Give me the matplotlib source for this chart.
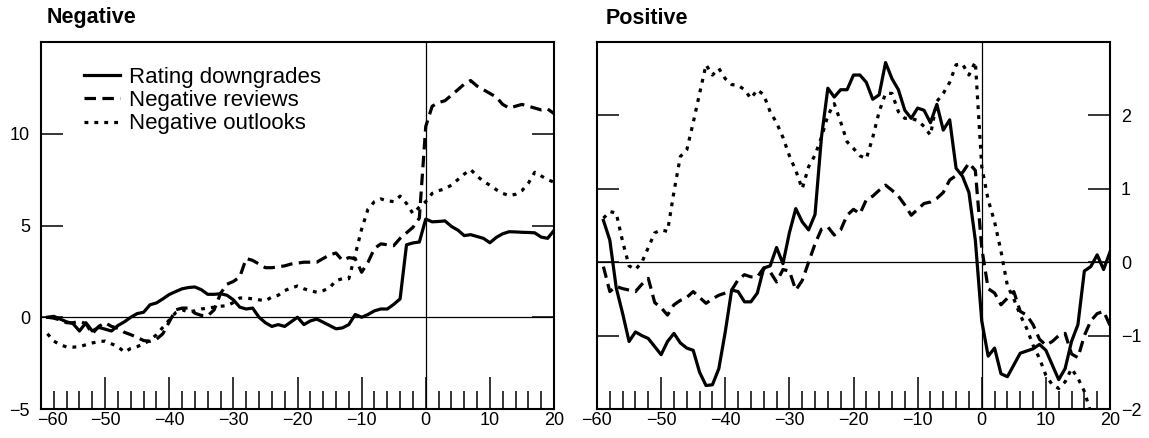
import numpy as np
import matplotlib
matplotlib.use("Agg")
import matplotlib.pyplot as plt
import matplotlib.transforms as mtrans

plt.rcParams['font.family'] = ['Liberation Sans', 'DejaVu Sans']

# days relative to the rating event
days = np.arange(-59, 21)

# --- Negative panel (left axis) ---
neg_downgrades = [
    0.0, 0.05, -0.1, -0.25, -0.35, -0.75, -0.3, -0.75, -0.55, -0.65,
    -0.75, -0.45, -0.25, 0.0, 0.2, 0.27, 0.68, 0.78, 1.0, 1.24,
    1.4, 1.55, 1.62, 1.65, 1.5, 1.25, 1.25, 1.28, 1.2, 0.95,
    0.55, 0.45, 0.5, 0.0, -0.3, -0.5, -0.4, -0.5, -0.25, 0.0,
    -0.4, -0.2, -0.1, -0.27, -0.45, -0.63, -0.58, -0.4, 0.15, 0.0,
    0.15, 0.35, 0.45, 0.45, 0.7, 1.0, 3.95, 4.05, 4.1, 5.35,
    5.2, 5.22, 5.25, 4.95, 4.75, 4.45, 4.5, 4.4, 4.3, 4.06,
    4.35, 4.55, 4.66, 4.65, 4.63, 4.62, 4.6, 4.37, 4.3, 4.73,
]
neg_reviews = [
    0.0, -0.05, -0.15, -0.3, -0.3, -0.22, -0.35, -0.9, -0.5, -0.3,
    -0.5, -0.6, -0.82, -0.95, -1.1, -1.27, -1.31, -1.2, -0.9, -0.25,
    0.4, 0.5, 0.5, 0.22, 0.1, 0.08, 0.4, 1.3, 1.8, 1.95,
    2.2, 3.2, 3.1, 2.9, 2.7, 2.7, 2.75, 2.8, 2.9, 2.95,
    3.0, 3.0, 3.0, 3.2, 3.4, 3.5, 3.1, 3.25, 3.2, 2.45,
    3.0, 3.75, 4.0, 3.95, 3.9, 4.3, 4.6, 4.9, 5.4, 10.4,
    11.5, 11.7, 11.8, 12.1, 12.4, 12.7, 12.9, 12.6, 12.4, 12.2,
    12.0, 11.6, 11.4, 11.5, 11.6, 11.5, 11.4, 11.3, 11.35, 11.1,
]
neg_outlooks = [
    -0.9, -1.3, -1.5, -1.62, -1.63, -1.6, -1.5, -1.4, -1.33, -1.3,
    -1.45, -1.6, -1.9, -1.7, -1.6, -1.45, -1.26, -0.95, -0.55, -0.15,
    0.25, 0.4, 0.3, 0.35, 0.45, 0.5, 0.55, 0.6, 0.63, 0.8,
    1.05, 1.05, 1.0, 0.95, 0.9, 1.1, 1.2, 1.45, 1.6, 1.7,
    1.55, 1.45, 1.36, 1.45, 1.6, 2.0, 2.1, 2.1, 3.4, 4.8,
    5.9, 6.3, 6.45, 6.35, 6.3, 6.6, 6.2, 5.65, 6.0, 6.3,
    6.75, 6.9, 7.0, 7.2, 7.5, 7.8, 8.05, 7.7, 7.4, 7.2,
    6.95, 6.75, 6.63, 6.7, 6.9, 7.3, 7.9, 7.7, 7.5, 7.36,
]

# --- Positive panel (right axis) ---
pos_upgrades = [
    0.57, 0.3, -0.35, -0.7, -1.08, -0.95, -1.0, -1.04, -1.15, -1.26,
    -1.08, -0.97, -1.1, -1.17, -1.2, -1.5, -1.68, -1.67, -1.45, -0.95,
    -0.38, -0.4, -0.54, -0.54, -0.42, -0.08, -0.05, 0.2, -0.02, 0.4,
    0.73, 0.55, 0.44, 0.65, 1.7, 2.37, 2.25, 2.35, 2.35, 2.55,
    2.55, 2.45, 2.22, 2.28, 2.72, 2.5, 2.35, 2.07, 1.96, 2.1,
    2.07, 1.9, 2.15, 1.8, 1.94, 1.28, 1.17, 0.95, 0.3, -0.8,
    -1.28, -1.17, -1.52, -1.56, -1.4, -1.24, -1.21, -1.18, -1.12, -1.2,
    -1.4, -1.6, -1.45, -1.08, -0.85, -0.12, -0.06, 0.1, -0.1, 0.14,
]
pos_reviews = [
    -0.06, -0.4, -0.33, -0.36, -0.38, -0.4, -0.3, -0.22, -0.55, -0.62,
    -0.72, -0.58, -0.52, -0.48, -0.4, -0.48, -0.56, -0.5, -0.45, -0.42,
    -0.38, -0.24, -0.17, -0.2, -0.2, -0.08, -0.13, -0.27, -0.1, -0.12,
    -0.38, -0.25, 0.0, 0.25, 0.45, 0.48, 0.37, 0.44, 0.64, 0.72,
    0.66, 0.85, 0.9, 0.98, 1.05, 0.98, 0.9, 0.78, 0.64, 0.72,
    0.8, 0.82, 0.87, 0.95, 1.12, 1.18, 1.22, 1.35, 1.25, 0.19,
    -0.36, -0.42, -0.58, -0.49, -0.4, -0.67, -0.72, -0.85, -1.05, -1.13,
    -1.08, -1.0, -0.97, -1.25, -1.3, -1.0, -0.8, -0.7, -0.67, -0.86,
]
pos_outlooks = [
    0.6, 0.69, 0.67, 0.28, -0.05, -0.1, 0.0, 0.2, 0.4, 0.44,
    0.42, 0.96, 1.44, 1.53, 1.9, 2.3, 2.69, 2.55, 2.64, 2.5,
    2.42, 2.41, 2.35, 2.23, 2.35, 2.28, 2.05, 1.9, 1.7, 1.45,
    1.25, 1.0, 1.3, 1.46, 1.7, 2.0, 2.16, 1.91, 1.64, 1.55,
    1.45, 1.41, 1.7, 2.05, 2.3, 2.3, 2.05, 1.96, 1.96, 1.93,
    1.85, 1.73, 2.19, 2.3, 2.45, 2.69, 2.7, 2.55, 2.73, 1.3,
    0.85, 0.55, 0.15, -0.32, -0.5, -0.72, -0.9, -1.13, -1.31, -1.54,
    -1.67, -1.72, -1.63, -1.45, -1.58, -1.76, -2.05, -2.3, -2.5, -2.6,
]

labels = ['Rating downgrades', 'Negative reviews', 'Negative outlooks']
neg_yticks = [-5, 0, 5, 10]
pos_yticks = [-2, -1, 0, 1, 2]

# line styles
LW = 2.3
DASHED = (0, (3.6, 2.0))
DOTTED = (0, (1.2, 1.9))

W, H = 1149, 438
fig = plt.figure(figsize=(W / 100, H / 100), dpi=100)
ax1 = fig.add_axes([41 / W, 29 / H, 513 / W, 367 / H])
ax2 = fig.add_axes([597 / W, 29 / H, 513 / W, 367 / H])


def style_axes(ax, ylim, yticks, side):
    ax.set_xlim(-60, 20)
    ax.set_ylim(*ylim)
    ax.axhline(0, color='black', lw=0.9, zorder=1)
    ax.axvline(0, color='black', lw=0.9, zorder=1)
    ax.set_xticks(range(-60, 21, 10))
    ax.set_xticks([v for v in range(-58, 20, 2) if v % 10], minor=True)
    ax.tick_params(axis='x', which='major', direction='in', length=23,
                   width=1.1, labelsize=13, pad=2)
    ax.tick_params(axis='x', which='minor', direction='in', length=13, width=1.1)
    ax.set_yticks(yticks)
    ax.tick_params(axis='y', direction='in', length=16, width=1.1,
                   left=True, right=True, labelsize=13, pad=8,
                   labelleft=(side == 'left'), labelright=(side == 'right'))
    for s in ax.spines.values():
        s.set_linewidth(1.5)


style_axes(ax1, (-5, 15), neg_yticks, 'left')
style_axes(ax2, (-2, 3), pos_yticks, 'right')

# nudge the first x label of the left panel right, clear of the "-5"
first = ax1.xaxis.get_major_ticks()[0].label1
first.set_transform(first.get_transform()
                    + mtrans.ScaledTranslation(8 / 72, 0, fig.dpi_scale_trans))

ax1.plot(days, neg_downgrades, color='black', lw=LW, ls='-', label=labels[0])
ax1.plot(days, neg_reviews, color='black', lw=LW, ls=DASHED, label=labels[1])
ax1.plot(days, neg_outlooks, color='black', lw=LW, ls=DOTTED, label=labels[2])

ax2.plot(days, pos_upgrades, color='black', lw=LW, ls='-')
ax2.plot(days, pos_reviews, color='black', lw=LW, ls=DASHED)
ax2.plot(days, pos_outlooks, color='black', lw=LW, ls=DOTTED)

ax1.legend(loc='upper left', bbox_to_anchor=(84 / W, 1 - 67 / H),
           bbox_transform=fig.transFigure, frameon=False, fontsize=16,
           borderpad=0, labelspacing=0.1, handlelength=1.6,
           handletextpad=0.42, borderaxespad=0)

fig.text(47 / W, 1 - 18 / H, 'Negative', fontsize=15.5, fontweight='bold',
         va='center', ha='left')
fig.text(606 / W, 1 - 18 / H, 'Positive', fontsize=15.5, fontweight='bold',
         va='center', ha='left')

fig.savefig('out.png', dpi=100)
plt.close(fig)
